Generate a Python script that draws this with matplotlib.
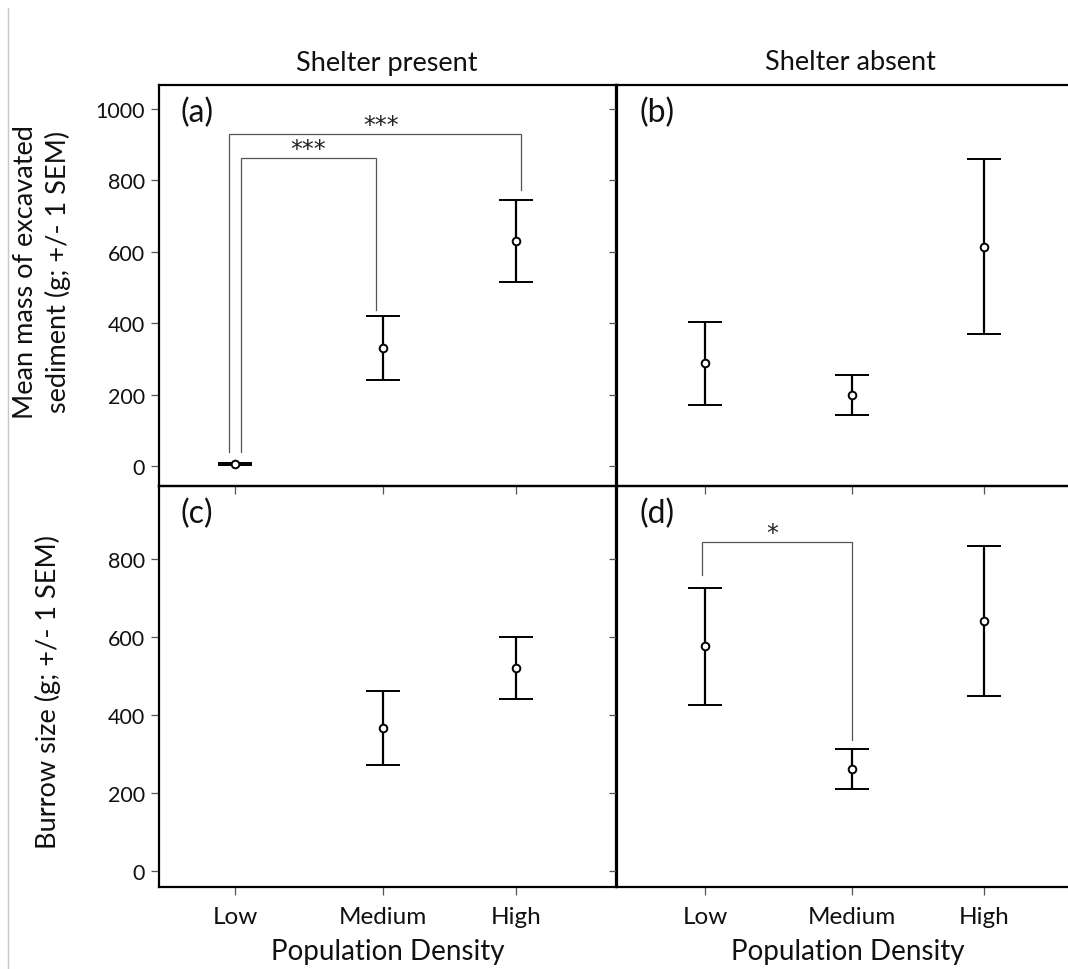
import numpy as np
import matplotlib
matplotlib.use("Agg")
import matplotlib.pyplot as plt
from matplotlib.lines import Line2D

plt.rcParams['font.family'] = ['Lato', 'DejaVu Sans']

# ---------------- data ----------------
densities = ["Low", "Medium", "High"]
x_pos = [1.0, 2.0, 2.895]

# (a) excavated sediment, shelter present
a_mean = [5, 330, 630]
a_sem = [3, 89, 115]
# (b) excavated sediment, shelter absent
b_mean = [287, 198, 614]
b_sem = [115, 56, 245]
# (c) burrow size, shelter present (no Low value)
c_mean = [np.nan, 367, 521]
c_sem = [np.nan, 95, 80]
# (d) burrow size, shelter absent
d_mean = [576, 262, 641]
d_sem = [150, 51, 193]

top_yticks = [0, 200, 400, 600, 800, 1000]
bot_yticks = [0, 200, 400, 600, 800]

# significance brackets: (x_left, x_right, y_top, y_left_bottom, y_right_bottom, label, label_x, label_y)
a_brackets = [
    (0.9615, 2.932, 929, 39, 772, "***", 1.984, 955),
    (1.0426, 1.951, 861, 39, 436, "***", 1.493, 887),
]
d_brackets = [
    (0.978, 2.002, 844, 760, 336, "*", 1.456, 867),
]

# ---------------- layout ----------------
W, H = 1068, 970
fig = plt.figure(figsize=(W / 100, H / 100), dpi=100)

def fx(px):
    return px / W

def fy(py):
    return 1 - py / H

lx0, lx1 = 159, 616
rx0, rx1 = 617, 1083
ty0, ty1 = 86, 487
by0, by1 = 487, 888

ax_a = fig.add_axes([fx(lx0), fy(ty1), fx(lx1 - lx0), (ty1 - ty0) / H])
ax_b = fig.add_axes([fx(rx0), fy(ty1), fx(rx1 - rx0), (ty1 - ty0) / H])
ax_c = fig.add_axes([fx(lx0), fy(by1), fx(lx1 - lx0), (by1 - by0) / H])
ax_d = fig.add_axes([fx(rx0), fy(by1), fx(rx1 - rx0), (by1 - by0) / H])

axes = [ax_a, ax_b, ax_c, ax_d]
for ax in axes:
    ax.patch.set_visible(False)
    for s in ax.spines.values():
        s.set_linewidth(1.6)
        s.set_color('black')
    ax.tick_params(direction='out', length=6, width=0.9, color='#555555',
                   labelsize=15.5, pad=4, labelcolor='#111111')

ax_a.set_xlim(0.486, 3.572)
ax_c.set_xlim(0.486, 3.572)
ax_b.set_xlim(0.401, 3.571)
ax_d.set_xlim(0.401, 3.571)
ax_a.set_ylim(-56, 1066)
ax_b.set_ylim(-56, 1066)
ax_c.set_ylim(-41, 987)
ax_d.set_ylim(-41, 987)

for ax in axes:
    ax.set_xticks(x_pos)
for ax in (ax_a, ax_b):
    ax.set_yticks(top_yticks)
for ax in (ax_c, ax_d):
    ax.set_yticks(bot_yticks)

ax_a.tick_params(labelbottom=False)
ax_b.tick_params(labelbottom=False, labelleft=False)
ax_d.tick_params(labelleft=False)
ax_c.set_xticklabels(densities)
ax_d.set_xticklabels(densities)
ax_c.tick_params(axis='x', pad=8, labelsize=17.5)
ax_d.tick_params(axis='x', pad=8, labelsize=17.5)

def plot_panel(ax, means, sems):
    ax.errorbar(x_pos, means, yerr=sems, fmt='o', color='black', ecolor='black',
                elinewidth=1.6, capsize=12, capthick=1.6, markersize=5.5,
                markerfacecolor='white', markeredgecolor='black', markeredgewidth=1.4,
                zorder=3)

plot_panel(ax_a, a_mean, a_sem)
plot_panel(ax_b, b_mean, b_sem)
plot_panel(ax_c, c_mean, c_sem)
plot_panel(ax_d, d_mean, d_sem)

def draw_brackets(ax, brackets):
    for xl, xr, yt, ylb, yrb, lab, tx, ty in brackets:
        ax.plot([xl, xl, xr, xr], [ylb, yt, yt, yrb], color='#555555', lw=0.9,
                zorder=2, solid_joinstyle='miter')
        ax.text(tx, ty, lab, ha='center', va='center', fontsize=17, color='#222222',
                family=['DejaVu Sans'])

draw_brackets(ax_a, a_brackets)
draw_brackets(ax_d, d_brackets)

# panel letters
for ax, lab in zip(axes, ["(a)", "(b)", "(c)", "(d)"]):
    ax.text(0.048, 0.932, lab, transform=ax.transAxes, fontsize=23,
            ha='left', va='center', color='#111111')

# column titles
fig.text(fx(387), fy(63), "Shelter present", ha='center', va='center', fontsize=19.5,
         color='#111111')
fig.text(fx(850), fy(63), "Shelter absent", ha='center', va='center', fontsize=19.5,
         color='#111111')

# axis labels
fig.text(fx(42), fy(272), "Mean mass of excavated\nsediment (g; +/- 1 SEM)", rotation=90,
         ha='center', va='center', fontsize=19.5, linespacing=1.3, color='#111111')
fig.text(fx(48), fy(692), "Burrow size (g; +/- 1 SEM)", rotation=90,
         ha='center', va='center', fontsize=19.5, color='#111111')
fig.text(fx(388), fy(952), "Population Density", ha='center', va='center', fontsize=20,
         color='#111111')
fig.text(fx(848), fy(952), "Population Density", ha='center', va='center', fontsize=20,
         color='#111111')

# thin gray frame line on the left edge
fig.add_artist(Line2D([fx(8), fx(8)], [fy(9), 0], color='#c8c8c8', lw=1.0,
                      transform=fig.transFigure))

fig.savefig("out.png", dpi=100)
